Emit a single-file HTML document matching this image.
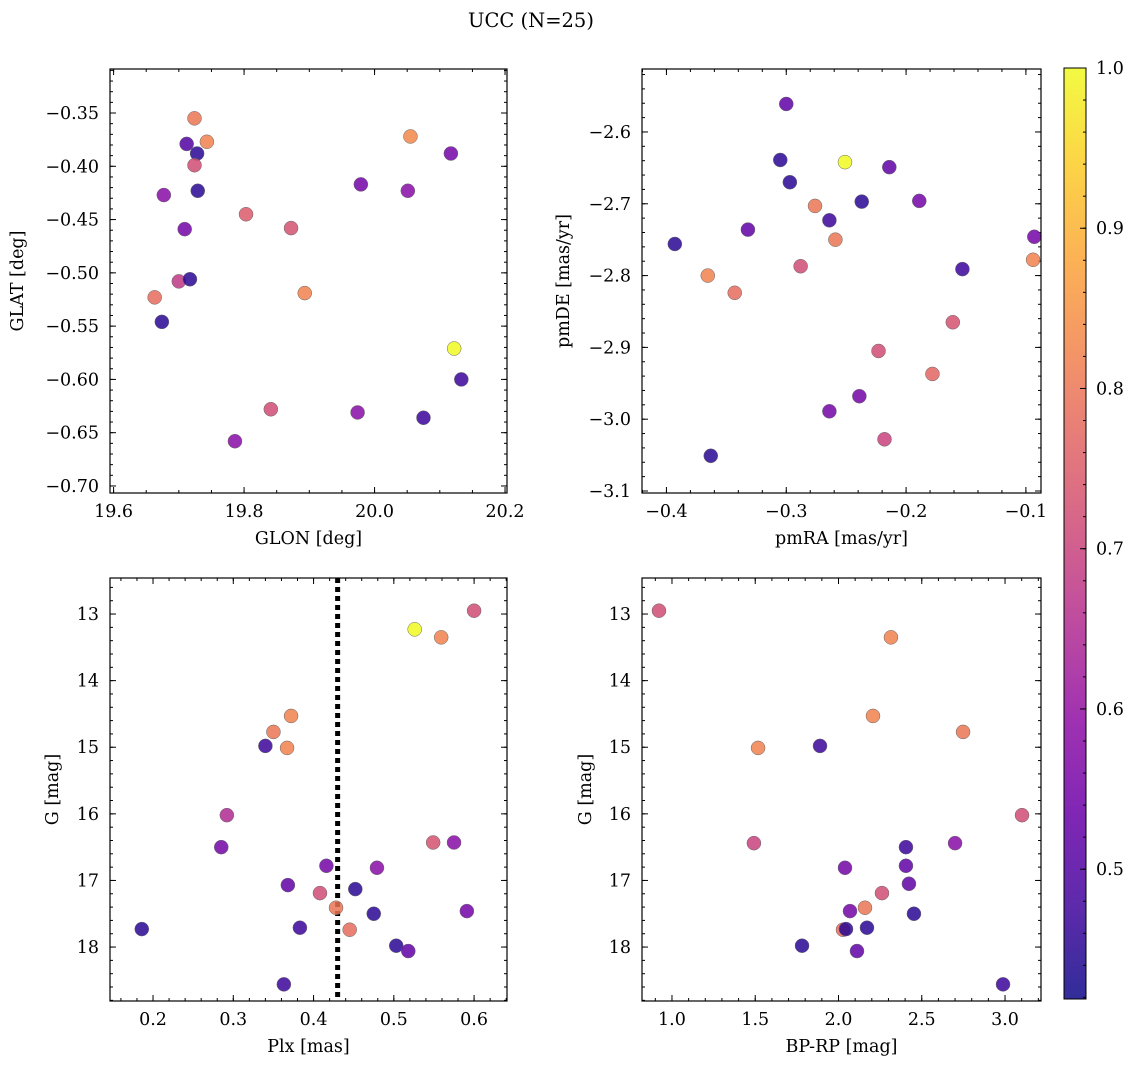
<!DOCTYPE html>
<html><head><meta charset="utf-8">
<style>
html,body{margin:0;padding:0;background:#fff;}
svg{display:block;font-family:"DejaVu Serif","Liberation Serif",serif;}
</style></head>
<body>
<svg id="fig" width="1136" height="1068" viewBox="0 0 1136 1068" xmlns="http://www.w3.org/2000/svg">
<text x="531" y="27" text-anchor="middle" font-size="19.5">UCC (N=25)</text>
</svg>
<script>
const glon=[19.724,19.712,19.728,19.743,19.724,19.677,19.729,19.709,19.803,19.872,20.055,20.117,19.979,20.051,19.700,19.717,19.663,19.893,19.674,20.122,20.133,19.841,19.974,20.075,19.786];
const glat=[-0.355,-0.379,-0.388,-0.377,-0.399,-0.427,-0.423,-0.459,-0.445,-0.458,-0.372,-0.388,-0.417,-0.423,-0.508,-0.506,-0.523,-0.519,-0.546,-0.571,-0.600,-0.628,-0.631,-0.636,-0.658];
const prob1=[0.8,0.5,0.45,0.82,0.72,0.58,0.45,0.55,0.75,0.73,0.83,0.55,0.55,0.58,0.68,0.45,0.78,0.82,0.45,1.0,0.47,0.72,0.58,0.47,0.58];
const pmra=[-0.393,-0.3655,-0.343,-0.363,-0.332,-0.305,-0.297,-0.300,-0.276,-0.288,-0.264,-0.259,-0.251,-0.237,-0.214,-0.189,-0.093,-0.094,-0.153,-0.161,-0.223,-0.178,-0.239,-0.264,-0.218];
const pmde=[-2.756,-2.800,-2.824,-3.051,-2.736,-2.639,-2.670,-2.561,-2.703,-2.787,-2.723,-2.750,-2.642,-2.697,-2.649,-2.696,-2.746,-2.778,-2.791,-2.865,-2.905,-2.937,-2.968,-2.989,-3.028];
const prob2=[0.45,0.82,0.78,0.45,0.52,0.45,0.45,0.52,0.8,0.72,0.47,0.8,1.0,0.45,0.52,0.55,0.55,0.82,0.47,0.73,0.72,0.77,0.55,0.55,0.7];
const plx=[0.600,0.526,0.559,0.372,0.350,0.340,0.367,0.292,0.285,0.549,0.575,0.416,0.479,0.368,0.408,0.428,0.452,0.475,0.591,0.186,0.383,0.445,0.503,0.518,0.363];
const gmag3=[12.95,13.23,13.35,14.53,14.77,14.98,15.01,16.02,16.50,16.43,16.43,16.78,16.81,17.07,17.19,17.41,17.13,17.50,17.46,17.73,17.71,17.74,17.98,18.06,18.56];
const prob3=[0.72,1.0,0.82,0.82,0.8,0.47,0.82,0.65,0.55,0.73,0.58,0.55,0.58,0.52,0.72,0.8,0.45,0.45,0.55,0.45,0.47,0.78,0.45,0.52,0.47];
const bprp=[0.922,2.315,2.207,2.748,1.517,1.889,3.102,1.492,2.700,2.405,2.405,2.039,2.423,2.261,2.159,2.069,2.453,2.027,2.045,2.171,1.781,2.111,2.988];
const gmag4=[12.95,13.35,14.53,14.77,15.01,14.98,16.02,16.44,16.44,16.50,16.78,16.81,17.05,17.19,17.41,17.46,17.50,17.74,17.73,17.71,17.98,18.06,18.56];
const prob4=[0.72,0.82,0.82,0.8,0.82,0.47,0.72,0.7,0.58,0.47,0.52,0.55,0.52,0.72,0.8,0.55,0.45,0.78,0.45,0.45,0.45,0.52,0.47];
const plxCut=[0.43];
const cbTicks=[0.5,0.6,0.7,0.8,0.9,1.0];
const VMIN=0.419,VMAX=1.0;

const NS="http://www.w3.org/2000/svg";
const svg=document.getElementById('fig');
const FS=17.5;
const stops=["#0d0887","#41049d","#6a00a8","#8f0da4","#b12a90","#cc4778","#e16462","#f2844b","#fca636","#fcce25","#f0f921"];
function hex(h){return [1,3,5].map(i=>parseInt(h.substr(i,2),16));}
function plasma(t){t=Math.max(0,Math.min(1,t));const f=t*10,i=Math.min(9,Math.floor(f)),r=f-i;const a=hex(stops[i]),b=hex(stops[i+1]);return 'rgb('+a.map((v,k)=>Math.round(v+(b[k]-v)*r)).join(',')+')';}
function cmap(p){return plasma((p-VMIN)/(VMAX-VMIN));}
function el(tag,attrs,parent){const e=document.createElementNS(NS,tag);for(const k in attrs)e.setAttribute(k,attrs[k]);(parent||svg).appendChild(e);return e;}
function fmt(v,d){const s=Math.abs(v).toFixed(d);return (v<0?'\u2212':'')+s;}

function panel(o){
  const g=el('g',{});
  
  
  const sx=v=>o.x0+(v-o.xmin)/(o.xmax-o.xmin)*(o.x1-o.x0);
  const sy=v=>o.invert? o.y0+(v-o.ymin)/(o.ymax-o.ymin)*(o.y1-o.y0) : o.y1-(v-o.ymin)/(o.ymax-o.ymin)*(o.y1-o.y0);
  const eps=1e-9;
  function xt(v,len){[o.y1,o.y0].forEach((yy,i)=>{const x=sx(v);const t=el('line',{x1:x,x2:x,y1:yy,y2:i?yy+len:yy-len,stroke:'#000','stroke-width':1},g);});}
  function yt(v,len){[o.x0,o.x1].forEach((xx,i)=>{const y=sy(v);const t=el('line',{x1:xx,x2:i?xx-len:xx+len,y1:y,y2:y,stroke:'#000','stroke-width':1},g);});}
  const lo=Math.min(o.xmin,o.xmax),hi=Math.max(o.xmin,o.xmax);
  for(let v=Math.ceil(lo/o.xminor-eps)*o.xminor;v<=hi+eps;v+=o.xminor)xt(v,3);
  for(let v=Math.ceil(lo/o.xmajor-eps)*o.xmajor;v<=hi+eps;v+=o.xmajor){xt(v,6);
    const t=el('text',{x:sx(v),y:o.y1+24,'text-anchor':'middle','font-size':FS},g);t.textContent=fmt(v,o.xd);
    }
  const ylo=Math.min(o.ymin,o.ymax),yhi=Math.max(o.ymin,o.ymax);
  for(let v=Math.ceil(ylo/o.yminor-eps)*o.yminor;v<=yhi+eps;v+=o.yminor)yt(v,3);
  for(let v=Math.ceil(ylo/o.ymajor-eps)*o.ymajor;v<=yhi+eps;v+=o.ymajor){yt(v,6);
    const t=el('text',{x:o.x0-11,y:sy(v)+6,'text-anchor':'end','font-size':FS},g);t.textContent=fmt(v,o.yd);
    }
  if(o.vline){o.vline.forEach(v=>{const l=el('line',{x1:sx(v),x2:sx(v),y1:o.y0,y2:o.y1,stroke:'#000','stroke-width':5,'stroke-dasharray':'5,4'},g);
    });}
  o.xs.forEach((xv,i)=>{const c=el('circle',{cx:sx(xv),cy:sy(o.ys[i]),r:7,fill:cmap(o.ps[i]),'fill-opacity':0.85,stroke:'#666','stroke-width':0.5},g);
    });
  const f=el('rect',{x:o.x0,y:o.y0,width:o.x1-o.x0,height:o.y1-o.y0,fill:'none',stroke:'#000','stroke-width':1.2},g);
  
  const xl=el('text',{x:(o.x0+o.x1)/2,y:o.y1+51,'text-anchor':'middle','font-size':FS},g);xl.textContent=o.xlabel;
  
  const cy=(o.y0+o.y1)/2,cx=o.ylx;
  const yl=el('text',{x:cx,y:cy,'text-anchor':'middle','font-size':FS,transform:`rotate(-90 ${cx} ${cy})`},g);yl.textContent=o.ylabel;
  
}
panel({name:'glon-glat-panel',x0:110,x1:507,y0:69,y1:493,xmin:19.5945,xmax:20.203,ymin:-0.7066,ymax:-0.3087,xmajor:0.2,xminor:0.05,ymajor:0.05,yminor:0.01,xd:1,yd:2,xs:glon,ys:glat,ps:prob1,xlabel:'GLON [deg]',ylabel:'GLAT [deg]',ylx:23});
panel({name:'pm-panel',x0:642,x1:1041,y0:69,y1:493,xmin:-0.4204,xmax:-0.0874,ymin:-3.1028,ymax:-2.5123,xmajor:0.1,xminor:0.02,ymajor:0.1,yminor:0.02,xd:1,yd:1,xs:pmra,ys:pmde,ps:prob2,xlabel:'pmRA [mas/yr]',ylabel:'pmDE [mas/yr]',ylx:569});
panel({name:'plx-g-panel',x0:110,x1:507,y0:578,y1:1001,xmin:0.1464,xmax:0.641,ymin:12.459,ymax:18.81,invert:true,xmajor:0.1,xminor:0.02,ymajor:1,yminor:0.2,xd:1,yd:0,xs:plx,ys:gmag3,ps:prob3,xlabel:'Plx [mas]',ylabel:'G [mag]',ylx:58,vline:plxCut});
panel({name:'cmd-panel',x0:642,x1:1041,y0:578,y1:1001,xmin:0.82,xmax:3.216,ymin:12.459,ymax:18.81,invert:true,xmajor:0.5,xminor:0.1,ymajor:1,yminor:0.2,xd:1,yd:0,xs:bprp,ys:gmag4,ps:prob4,xlabel:'BP-RP [mag]',ylabel:'G [mag]',ylx:591});

const cb=el('g',{});


const cbx=1064,cbw=22,cby0=68,cby1=999;
const defs=el('defs',{},cb);
const lg=el('linearGradient',{id:'cbg',x1:0,y1:1,x2:0,y2:0},defs);
for(let i=0;i<=20;i++){el('stop',{offset:i/20,'stop-color':plasma(i/20),'stop-opacity':0.85},lg);}
el('rect',{x:cbx,y:cby0,width:cbw,height:cby1-cby0,fill:'url(#cbg)',stroke:'#000','stroke-width':1},cb);
const cbY=v=>cby1-(v-VMIN)/(VMAX-VMIN)*(cby1-cby0);
for(let v=0.42;v<=1.0001;v+=0.02){const y=cbY(v);el('line',{x1:cbx+cbw,x2:cbx+cbw-3,y1:y,y2:y,stroke:'#000'},cb);}
cbTicks.forEach(v=>{const y=cbY(v);el('line',{x1:cbx+cbw,x2:cbx+cbw-6,y1:y,y2:y,stroke:'#000'},cb);
  const t=el('text',{x:cbx+cbw+10,y:y+6,'font-size':FS},cb);t.textContent=v.toFixed(1);
  });
</script>
</body></html>
